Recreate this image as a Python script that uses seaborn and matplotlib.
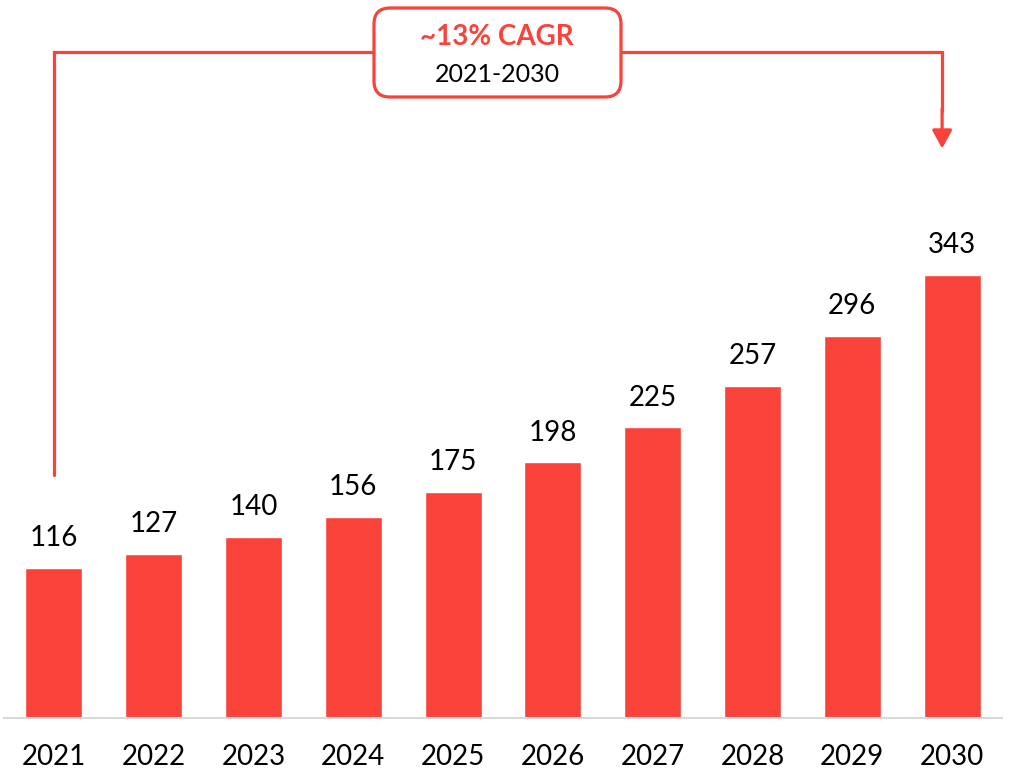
import matplotlib
matplotlib.use("Agg")
import matplotlib.pyplot as plt
import seaborn as sns
import pandas as pd
from matplotlib.patches import FancyBboxPatch

# Data
years = ["2021", "2022", "2023", "2024", "2025", "2026", "2027", "2028", "2029", "2030"]
values = [116, 127, 140, 156, 175, 198, 225, 257, 296, 343]
cagr_label = "~13% CAGR"
cagr_period = "2021-2030"

RED = "#F9423A"

sns.set_theme(style="white")
plt.rcParams["font.family"] = ["Lato", "DejaVu Sans"]

df = pd.DataFrame({"year": years, "value": values})

fig = plt.figure(figsize=(10.1, 7.74), dpi=100)
ax = fig.add_axes([4 / 1010, 56 / 774, 998 / 1010, 718 / 774])

sns.barplot(data=df, x="year", y="value", color=RED, saturation=1, width=0.57, ax=ax)

for i, v in enumerate(values):
    ax.text(i, v + 13, str(v), ha="center", va="bottom", fontsize=20, color="black")

ax.set_xlim(-0.5, 9.5)
ax.set_ylim(0, 556)
ax.set_xlabel("")
ax.set_ylabel("")
ax.set_yticks([])
ax.tick_params(axis="x", length=0, pad=19, labelsize=20, labelcolor="black")
for s in ["top", "left", "right"]:
    ax.spines[s].set_visible(False)
ax.spines["bottom"].set_color("#D9D9D9")
ax.spines["bottom"].set_linewidth(1.5)

# CAGR bracket
bracket_y = 516
ax.plot([0, 0, 8.9, 8.9], [188, bracket_y, bracket_y, 470], color=RED, lw=2.3,
        solid_joinstyle="miter", clip_on=False, zorder=3)
ax.annotate("", xy=(8.9, 441), xytext=(8.9, 472),
            arrowprops=dict(arrowstyle="-|>,head_length=0.55,head_width=0.3",
                            mutation_scale=20, color=RED, lw=2.3,
                            shrinkA=0, shrinkB=0), zorder=3)

box = FancyBboxPatch((3.74, 6.77), 2.47, 0.89,
                     boxstyle="round,pad=0,rounding_size=0.16",
                     transform=fig.dpi_scale_trans, facecolor="white",
                     edgecolor=RED, lw=2.3, zorder=5)
fig.patches.append(box)
fig.text(497 / 1010, 1 - 37 / 774, cagr_label, ha="center", va="center",
         fontsize=20, fontweight="bold", color=RED, zorder=6)
fig.text(497 / 1010, 1 - 74 / 774, cagr_period, ha="center", va="center",
         fontsize=18, color="black", zorder=6)

fig.savefig("out.png", dpi=100)
